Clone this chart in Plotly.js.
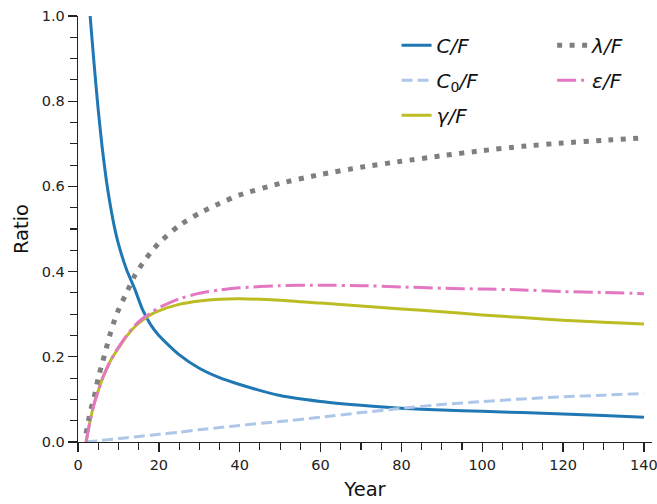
<!DOCTYPE html>
<html>
<head>
<meta charset="utf-8">
<script src="https://cdn.plot.ly/plotly-3.0.1.min.js"></script>
<style>html,body{margin:0;padding:0;background:#fff;}#chart{width:657px;height:504px;}</style>
</head>
<body>
<div id="chart"></div>
<script>
// Year values
const years = [2,3,4,5,6,7,8,9,10,12,14,16,18,20,25,30,35,40,50,60,70,80,90,100,110,120,130,140];
// C/F
const cF = [null,1.0,0.885,0.78,0.69,0.615,0.555,0.505,0.465,0.405,0.36,0.31,0.275,0.25,0.205,0.173,0.151,0.135,0.109,0.095,0.086,0.079,0.075,0.072,0.069,0.066,0.062,0.058];
// C0/F
const c0F = [0,0.001,0.002,0.003,0.004,0.005,0.006,0.007,0.008,0.01,0.012,0.014,0.016,0.018,0.023,0.029,0.034,0.039,0.048,0.058,0.069,0.079,0.088,0.095,0.101,0.106,0.110,0.114];
// gamma/F
const gammaF = [0,0.05,0.09,0.12,0.148,0.17,0.19,0.206,0.22,0.248,0.27,0.286,0.299,0.308,0.323,0.331,0.335,0.336,0.333,0.326,0.319,0.312,0.306,0.298,0.292,0.286,0.281,0.277];
// lambda/F
const lambdaF = [0.02,0.07,0.105,0.15,0.185,0.22,0.255,0.285,0.31,0.35,0.39,0.42,0.445,0.467,0.508,0.537,0.56,0.58,0.607,0.628,0.645,0.659,0.672,0.684,0.694,0.702,0.708,0.714];
// epsilon/F
const epsF = [0,0.05,0.09,0.12,0.148,0.17,0.19,0.207,0.222,0.25,0.273,0.29,0.303,0.315,0.336,0.349,0.357,0.362,0.367,0.368,0.367,0.364,0.361,0.359,0.357,0.353,0.351,0.348];
// labels
const names = ['<i>C/F</i>','<i>C</i><sub>0</sub><i>/F</i>','<i>γ/F</i>','<i>λ/F</i>','<i>ε/F</i>'];
const xTicks = [0,20,40,60,80,100,120,140];
const yTicks = [0.0,0.2,0.4,0.6,0.8,1.0];

const traces = [
  {x: years, y: cF, name: names[0], legend: 'legend', legendgroup: 'a', line: {color: '#1f77b4', width: 3}},
  {x: years, y: c0F, name: names[1], legend: 'legend', legendgroup: 'b', line: {color: '#aec7e8', width: 3, dash: '11px,5px'}},
  {x: years, y: gammaF, name: names[2], legend: 'legend', legendgroup: 'c', line: {color: '#bcbd22', width: 3}},
  {x: years, y: lambdaF, name: names[3], legend: 'legend2', legendgroup: 'd', line: {color: '#7f7f7f', width: 5, dash: '5px,7.5px'}},
  {x: years, y: epsF, name: names[4], legend: 'legend2', legendgroup: 'e', line: {color: '#e377c2', width: 3, dash: '19px,5px,3px,5px'}}
].map(t => { t.type = 'scatter'; t.mode = 'lines'; t.connectgaps = false; t.line.shape = 'spline'; t.line.smoothing = 0.6; return t; });

const axisCommon = {
  showgrid: false, zeroline: false, showline: true, linecolor: '#222', linewidth: 1.3,
  ticks: 'outside', ticklen: 9, tickwidth: 1.3, tickcolor: '#222',
  tickfont: {family: 'DejaVu Sans', size: 14.5, color: '#222'},
  ticklabeloverflow: 'allow', mirror: false
};

const legendCommon = {
  orientation: 'v', yanchor: 'top', xanchor: 'left', y: 0.977,
  bgcolor: 'rgba(0,0,0,0)', tracegroupgap: 6,
  font: {family: 'DejaVu Sans', size: 20, color: '#111'}
};

const layout = {
  width: 657, height: 504,
  margin: {l: 78, r: 5, t: 16, b: 62},
  paper_bgcolor: '#fff', plot_bgcolor: '#fff',
  showlegend: true,
  legend: Object.assign({}, legendCommon, {x: 0.555}),
  legend2: Object.assign({}, legendCommon, {x: 0.826}),
  xaxis: Object.assign({}, axisCommon, {
    range: [0, 142], tickvals: xTicks, ticktext: xTicks.map(String),
    minor: {dtick: 5, tick0: 0, ticks: 'outside', ticklen: 7, tickwidth: 1.1, tickcolor: '#222'},
    title: {text: 'Year', font: {family: 'DejaVu Sans', size: 19.5, color: '#111'}, standoff: 10}
  }),
  yaxis: Object.assign({}, axisCommon, {
    range: [0, 1], tickvals: yTicks, ticktext: yTicks.map(v => v.toFixed(1)),
    minor: {dtick: 0.05, tick0: 0, ticks: 'outside', ticklen: 7, tickwidth: 1.1, tickcolor: '#222'},
    title: {text: 'Ratio', font: {family: 'DejaVu Sans', size: 19.5, color: '#111'}, standoff: 8}
  })
};

Plotly.newPlot('chart', traces, layout, {displayModeBar: false, staticPlot: true});
</script>
</body>
</html>
